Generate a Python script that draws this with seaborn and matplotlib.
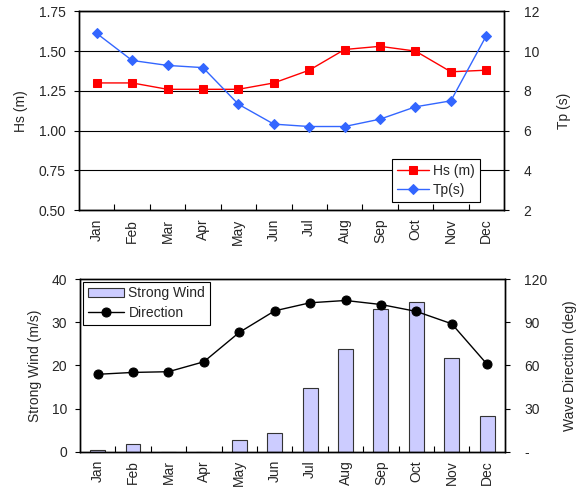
import numpy as np
import matplotlib
matplotlib.use("Agg")
import matplotlib.pyplot as plt
import seaborn as sns
from matplotlib.ticker import FuncFormatter

# Monthly wave and wind statistics
months = ["Jan", "Feb", "Mar", "Apr", "May", "Jun",
          "Jul", "Aug", "Sep", "Oct", "Nov", "Dec"]
hs_m = [1.30, 1.30, 1.26, 1.26, 1.26, 1.30, 1.38, 1.51, 1.53, 1.50, 1.37, 1.38]
tp_s = [10.89, 9.53, 9.28, 9.17, 7.33, 6.33, 6.21, 6.21, 6.58, 7.20, 7.50, 10.77]
strong_wind = [0.4, 1.7, 0.0, 0.0, 2.6, 4.3, 14.7, 23.9, 33.1, 34.7, 21.8, 8.3]
wave_dir = [53.8, 55.1, 55.6, 62.5, 82.9, 97.9, 103.5, 105.1, 102.3, 97.5, 88.9, 60.7]

hs_ticks = [0.50, 0.75, 1.00, 1.25, 1.50, 1.75]
tp_ticks = [2, 4, 6, 8, 10, 12]
wind_ticks = [0, 10, 20, 30, 40]
dir_ticks = [0, 30, 60, 90, 120]

sns.set_style("ticks")
plt.rcParams["font.family"] = ["Liberation Sans", "DejaVu Sans"]
plt.rcParams["font.size"] = 10

x = np.arange(len(months))

fig = plt.figure(figsize=(5.83, 4.91), dpi=100)
ax1 = fig.add_axes([0.1355, 0.5717, 0.729, 0.4053])
ax2 = fig.add_axes([0.137, 0.080, 0.729, 0.3517])


def style_month_axis(ax):
    ax.set_xlim(-0.5, len(months) - 0.5)
    ax.set_xticks(x)
    ax.set_xticklabels(months, rotation=90)
    ax.set_xticks(np.arange(0.5, len(months) - 1, 1), minor=True)
    ax.tick_params(axis="x", which="major", length=0, pad=6, labelsize=10)
    ax.tick_params(axis="x", which="minor", direction="in", length=4,
                   width=0.8, color="black")
    for s in ax.spines.values():
        s.set_color("black")
        s.set_linewidth(1.0)


def style_right_axis(ax):
    ax.tick_params(axis="y", direction="out", length=3.6, width=0.8,
                   pad=10.5, labelsize=10, color="black")
    for s in ax.spines.values():
        s.set_color("black")
        s.set_linewidth(1.0)


# ---- Top panel: significant wave height and peak period ----
sns.lineplot(x=x, y=hs_m, ax=ax1, color="#FF0000", marker="s",
             markersize=6, markeredgecolor="#FF0000", linewidth=1.0,
             sort=False, label="Hs (m)", legend=False)
ax1.set_ylim(0.5, 1.75)
ax1.set_yticks(hs_ticks)
ax1.yaxis.set_major_formatter(FuncFormatter(lambda v, p: f"{v:.2f}"))
ax1.yaxis.grid(True, color="black", linewidth=0.8)
ax1.set_axisbelow(True)
ax1.tick_params(axis="y", direction="out", length=3.6, width=0.8,
                pad=6, labelsize=10, color="black")
ax1.set_ylabel("Hs (m)", fontsize=10, labelpad=8)
ax1.set_xlabel("")
style_month_axis(ax1)

ax1r = ax1.twinx()
sns.lineplot(x=x, y=tp_s, ax=ax1r, color="#3366FF", marker="D",
             markersize=5, markeredgecolor="#3366FF", linewidth=1.0,
             sort=False, label="Tp(s)", legend=False)
ax1r.set_ylim(2, 12)
ax1r.set_yticks(tp_ticks)
style_right_axis(ax1r)
ax1r.set_ylabel("Tp (s)", fontsize=10, labelpad=13)
ax1r.set_xlabel("")

h1, l1 = ax1.get_legend_handles_labels()
h2, l2 = ax1r.get_legend_handles_labels()
leg1 = ax1r.legend(h1 + h2, l1 + l2, loc="lower right",
                   bbox_to_anchor=(0.943, 0.042), fancybox=False,
                   edgecolor="black", framealpha=1, fontsize=10,
                   handlelength=2.3, borderpad=0.35, labelspacing=0.4,
                   handletextpad=0.3, borderaxespad=0)
leg1.get_frame().set_linewidth(0.8)

# ---- Bottom panel: strong wind and wave direction ----
sns.barplot(x=x, y=strong_wind, ax=ax2, color="#CCCCFF", width=0.42,
            edgecolor="#333333", linewidth=0.8, saturation=1,
            label="Strong Wind", legend=False)
ax2.set_ylim(0, 40)
ax2.set_yticks(wind_ticks)
ax2.tick_params(axis="y", direction="out", length=3.6, width=0.8,
                pad=5.5, labelsize=10, color="black")
ax2.set_ylabel("Strong Wind (m/s)", fontsize=10, labelpad=7)
ax2.set_xlabel("")
style_month_axis(ax2)

ax2r = ax2.twinx()
sns.lineplot(x=x, y=wave_dir, ax=ax2r, color="black", marker="o",
             markersize=6.5, markeredgecolor="black", linewidth=1.0,
             sort=False, label="Direction", legend=False)
ax2r.set_ylim(0, 120)
ax2r.set_yticks(dir_ticks)
ax2r.yaxis.set_major_formatter(
    FuncFormatter(lambda v, p: "-" if v == 0 else f"{v:.0f}"))
style_right_axis(ax2r)
ax2r.set_ylabel("Wave Direction (deg)", fontsize=10, labelpad=11)
ax2r.set_xlabel("")

h3, l3 = ax2.get_legend_handles_labels()
h4, l4 = ax2r.get_legend_handles_labels()
leg2 = ax2r.legend(h3 + h4, l3 + l4, loc="upper left",
                   bbox_to_anchor=(0.008, 0.985), fancybox=False,
                   edgecolor="black", framealpha=1, fontsize=10,
                   handlelength=2.6, borderpad=0.35, labelspacing=0.4,
                   handletextpad=0.3, borderaxespad=0)
leg2.get_frame().set_linewidth(0.8)

fig.savefig("out.png", dpi=100)
